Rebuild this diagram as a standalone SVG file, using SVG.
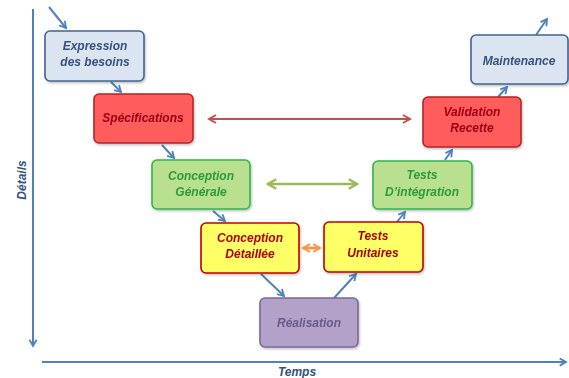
<svg xmlns="http://www.w3.org/2000/svg" width="569" height="378" viewBox="0 0 569 378">
<style>
  text { font-family: "Liberation Sans", Arial, sans-serif; font-weight: bold; font-style: italic; font-size: 12px; text-anchor: middle; }
  .box { stroke-width: 1.6; }
  .blue { fill: #dbe5f1; stroke: #41648f; }
  .red { fill: #ff5b5b; stroke: #b3262a; }
  .green { fill: #b9e08f; stroke: #33b24c; }
  .yellow { fill: #ffff66; stroke: #c00000; }
  .purple { fill: #b3a2c7; stroke: #7d679c; }
  .tblue { fill: #34527e; }
  .tred { fill: #a00018; }
  .tgreen { fill: #2a9a3c; }
  .tdred { fill: #b00000; }
  .tpurple { fill: #675a8a; }
  .flow { stroke: #4f81bd; stroke-width: 2; fill: none; marker-end: url(#ab); }
  .axis { stroke: #4f81bd; stroke-width: 2; fill: none; marker-end: url(#ab); }
</style>
<defs>
  <marker id="ab" viewBox="0 0 10 10" refX="8" refY="5" markerWidth="4.5" markerHeight="4.5" orient="auto" markerUnits="strokeWidth">
    <path d="M1,1 L8,5 L1,9" fill="none" stroke="#4f81bd" stroke-width="2"/>
  </marker>
  <marker id="ar" viewBox="0 0 10 10" refX="8" refY="5" markerWidth="5" markerHeight="5" orient="auto-start-reverse" markerUnits="strokeWidth">
    <path d="M1,1 L8,5 L1,9" fill="none" stroke="#c0504d" stroke-width="2"/>
  </marker>
  <marker id="ag" viewBox="0 0 10 10" refX="8" refY="5" markerWidth="4.5" markerHeight="4.5" orient="auto-start-reverse" markerUnits="strokeWidth">
    <path d="M1,1 L8,5 L1,9" fill="none" stroke="#9bbb59" stroke-width="2"/>
  </marker>
  <marker id="ao" viewBox="0 0 10 10" refX="8" refY="5" markerWidth="3.5" markerHeight="3.5" orient="auto-start-reverse" markerUnits="strokeWidth">
    <path d="M1,1 L8,5 L1,9" fill="none" stroke="#f79646" stroke-width="2"/>
  </marker>
  <filter id="sh" x="-10%" y="-10%" width="130%" height="130%">
    <feDropShadow dx="1" dy="1.5" stdDeviation="1.2" flood-color="#000" flood-opacity="0.25"/>
  </filter>
</defs>

<g id="axes">
  <line class="axis" x1="33" y1="9" x2="33" y2="346"/>
  <line class="axis" x1="42" y1="362" x2="566" y2="362"/>
  <text x="0" y="0" transform="translate(26,180) rotate(-90)" class="tblue" font-size="11">Détails</text>
  <text x="297" y="376" class="tblue" font-size="11">Temps</text>
</g>

<g id="connectors">
  <line class="flow" x1="49" y1="7" x2="66" y2="28"/>
  <line class="flow" x1="111" y1="82" x2="121" y2="92"/>
  <line class="flow" x1="162" y1="145" x2="174" y2="158"/>
  <line class="flow" x1="213" y1="211" x2="225" y2="221"/>
  <line class="flow" x1="261" y1="274" x2="284" y2="296"/>
  <line class="flow" x1="334" y1="298" x2="356" y2="274"/>
  <line class="flow" x1="397" y1="222" x2="405" y2="212"/>
  <line class="flow" x1="445" y1="160" x2="452" y2="150"/>
  <line class="flow" x1="498" y1="97" x2="507" y2="87"/>
  <line class="flow" x1="536" y1="35" x2="547" y2="19"/>
  <line x1="209" y1="119" x2="410" y2="119" stroke="#c0504d" stroke-width="2" marker-start="url(#ar)" marker-end="url(#ar)"/>
  <line x1="268" y1="184" x2="357" y2="184" stroke="#9bbb59" stroke-width="2.6" marker-start="url(#ag)" marker-end="url(#ag)"/>
  <line x1="303" y1="248" x2="320" y2="248" stroke="#f79646" stroke-width="2.8" marker-start="url(#ao)" marker-end="url(#ao)"/>
</g>

<g id="expression" filter="url(#sh)">
  <rect class="box blue" x="45" y="31" width="99" height="50" rx="5"/>
  <text x="95" y="50" class="tblue">Expression</text>
  <text x="95" y="66" class="tblue">des besoins</text>
</g>
<g id="specifications" filter="url(#sh)">
  <rect class="box red" x="94" y="94" width="99" height="49" rx="5"/>
  <text x="143" y="122" class="tred">Spécifications</text>
</g>
<g id="conception-generale" filter="url(#sh)">
  <rect class="box green" x="152" y="160" width="98" height="49" rx="5"/>
  <text x="201" y="180" class="tgreen">Conception</text>
  <text x="201" y="196" class="tgreen">Générale</text>
</g>
<g id="conception-detaillee" filter="url(#sh)">
  <rect class="box yellow" x="201" y="223" width="98" height="50" rx="5"/>
  <text x="250" y="242" class="tdred">Conception</text>
  <text x="250" y="258" class="tdred">Détaillée</text>
</g>
<g id="realisation" filter="url(#sh)">
  <rect class="box purple" x="260" y="298" width="98" height="49" rx="5"/>
  <text x="309" y="327" class="tpurple">Réalisation</text>
</g>
<g id="tests-unitaires" filter="url(#sh)">
  <rect class="box yellow" x="324" y="222" width="99" height="50" rx="5"/>
  <text x="373" y="240" class="tdred">Tests</text>
  <text x="373" y="257" class="tdred">Unitaires</text>
</g>
<g id="tests-integration" filter="url(#sh)">
  <rect class="box green" x="373" y="161" width="99" height="48" rx="5"/>
  <text x="422" y="179" class="tgreen">Tests</text>
  <text x="422" y="196" class="tgreen">D’intégration</text>
</g>
<g id="validation-recette" filter="url(#sh)">
  <rect class="box red" x="423" y="97" width="98" height="50" rx="5"/>
  <text x="472" y="116" class="tred">Validation</text>
  <text x="472" y="132" class="tred">Recette</text>
</g>
<g id="maintenance" filter="url(#sh)">
  <rect class="box blue" x="471" y="35" width="97" height="49" rx="5"/>
  <text x="519" y="65" class="tblue">Maintenance</text>
</g>
</svg>
